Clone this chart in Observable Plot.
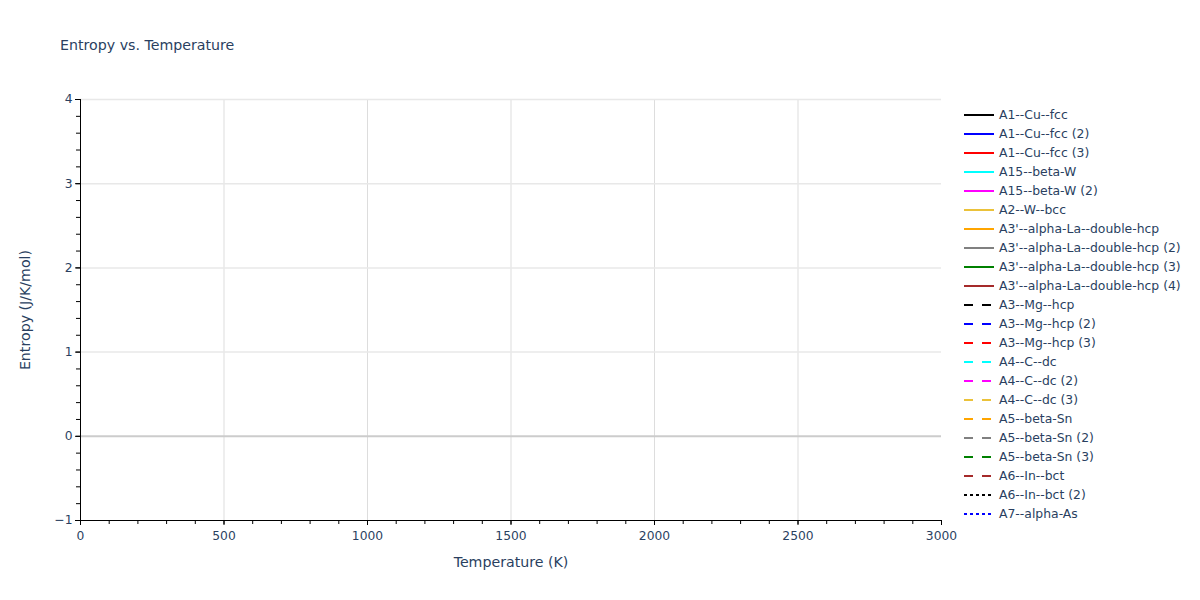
<!DOCTYPE html>
<html>
<head>
<meta charset="utf-8">
<script src="https://cdn.jsdelivr.net/npm/d3@7"></script>
<script src="https://cdn.jsdelivr.net/npm/@observablehq/plot@0.6"></script>
<style>
  body { margin: 0; background: #fff; }
  #wrap { position: relative; width: 1200px; height: 600px; font-family: "DejaVu Sans", sans-serif; color: #2a3f5f; }
  #title { position: absolute; left: 60px; top: 37px; font-size: 14.2px; color: #2a3f5f; white-space: nowrap; }
  #legend { position: absolute; left: 960px; top: 105px; font-size: 12.4px; color: #2a3f5f; }
  .item { height: 19px; display: flex; align-items: center; white-space: nowrap; }
  .item svg { margin-left: 4px; margin-right: 5px; }
  #chart { position: absolute; left: 0; top: 0; }
</style>
</head>
<body>
<div id="wrap">
  <div id="chart"></div>
  <div id="title">Entropy vs. Temperature</div>
  <div id="legend"></div>
</div>
<script>
// Series (no visible data in the reference: every series is empty)
const seriesNames = [
  "A1--Cu--fcc", "A1--Cu--fcc (2)", "A1--Cu--fcc (3)", "A15--beta-W", "A15--beta-W (2)",
  "A2--W--bcc", "A3'--alpha-La--double-hcp", "A3'--alpha-La--double-hcp (2)",
  "A3'--alpha-La--double-hcp (3)", "A3'--alpha-La--double-hcp (4)",
  "A3--Mg--hcp", "A3--Mg--hcp (2)", "A3--Mg--hcp (3)", "A4--C--dc", "A4--C--dc (2)",
  "A4--C--dc (3)", "A5--beta-Sn", "A5--beta-Sn (2)", "A5--beta-Sn (3)", "A6--In--bct",
  "A6--In--bct (2)", "A7--alpha-As"
];
const seriesColors = [
  "black", "blue", "red", "cyan", "magenta", "#ebc23a", "orange", "gray", "green", "brown",
  "black", "blue", "red", "cyan", "magenta", "#ebc23a", "orange", "gray", "green", "brown",
  "black", "blue"
];
const seriesDashes = [
  "solid", "solid", "solid", "solid", "solid", "solid", "solid", "solid", "solid", "solid",
  "dash", "dash", "dash", "dash", "dash", "dash", "dash", "dash", "dash", "dash",
  "dot", "dot"
];
const temperatures = [];              // K
const entropyValues = seriesNames.map(() => []); // J/K/mol

const xMajorTicks = [0, 500, 1000, 1500, 2000, 2500, 3000];
const yMajorTicks = [-1, 0, 1, 2, 3, 4];

const dashArray = {solid: null, dash: "9,9", dot: "3,3"};

const rows = seriesNames.map((name, i) => ({
  name, color: seriesColors[i], dash: seriesDashes[i],
  data: entropyValues[i].map((s, j) => ({T: temperatures[j], S: s}))
}));

const textColor = "#2a3f5f";
const chart = Plot.plot({
  width: 1200,
  height: 600,
  marginLeft: 80,
  marginRight: 259,
  marginTop: 99,
  marginBottom: 80,
  style: {fontFamily: "DejaVu Sans, sans-serif", fontSize: "12px", color: textColor, background: "white"},
  x: {domain: [0, 3000]},
  y: {domain: [-1, 4]},
  marks: [
    Plot.gridX(xMajorTicks.filter(t => t > 0 && t < 3000), {stroke: "#dddddd", strokeOpacity: 1}),
    Plot.gridY(yMajorTicks.filter(t => t !== 0 && t !== -1), {stroke: "#e8e8e8", strokeOpacity: 1, strokeWidth: 1.5}),
    Plot.ruleY([0], {stroke: "#cccccc", strokeWidth: 2}),
    ...rows.map(r => Plot.line(r.data, {x: "T", y: "S", stroke: r.color, strokeWidth: 2, strokeDasharray: dashArray[r.dash]})),
    Plot.axisX(xMajorTicks, {tickSize: 5, tickPadding: 6, label: null, stroke: "black", fill: textColor, fontSize: 12.3, tickFormat: d3.format("d")}),
    Plot.axisX(d3.range(0, 3001, 100), {tickSize: 4, text: null, label: null, stroke: "black"}),
    Plot.axisY(yMajorTicks, {tickSize: 5, tickPadding: 3, label: null, stroke: "black", fill: textColor, fontSize: 12.3, tickFormat: d3.format("d")}),
    Plot.axisY(d3.range(-1, 4.001, 0.2).map(v => +v.toFixed(1)), {tickSize: 4, text: null, label: null, stroke: "black"}),
    Plot.ruleY([-1], {stroke: "black", strokeWidth: 1}),
    Plot.ruleX([0], {stroke: "black", strokeWidth: 1}),
    Plot.text(["Temperature (K)"], {frameAnchor: "bottom", textAnchor: "middle", dy: 46, fontSize: 14.2, fill: textColor}),
    Plot.text(["Entropy (J/K/mol)"], {frameAnchor: "left", textAnchor: "middle", dx: -55, rotate: -90, fontSize: 14.2, fill: textColor})
  ]
});
document.getElementById("chart").append(chart);

const legend = d3.select("#legend");
rows.forEach(r => {
  const item = legend.append("div").attr("class", "item");
  const sw = item.append("svg").attr("width", 30).attr("height", 10);
  sw.append("line").attr("x1", 0).attr("x2", 30).attr("y1", 5).attr("y2", 5)
    .attr("stroke", r.color).attr("stroke-width", 2)
    .attr("stroke-dasharray", dashArray[r.dash]);
  item.append("span").text(r.name);
});
</script>
</body>
</html>
